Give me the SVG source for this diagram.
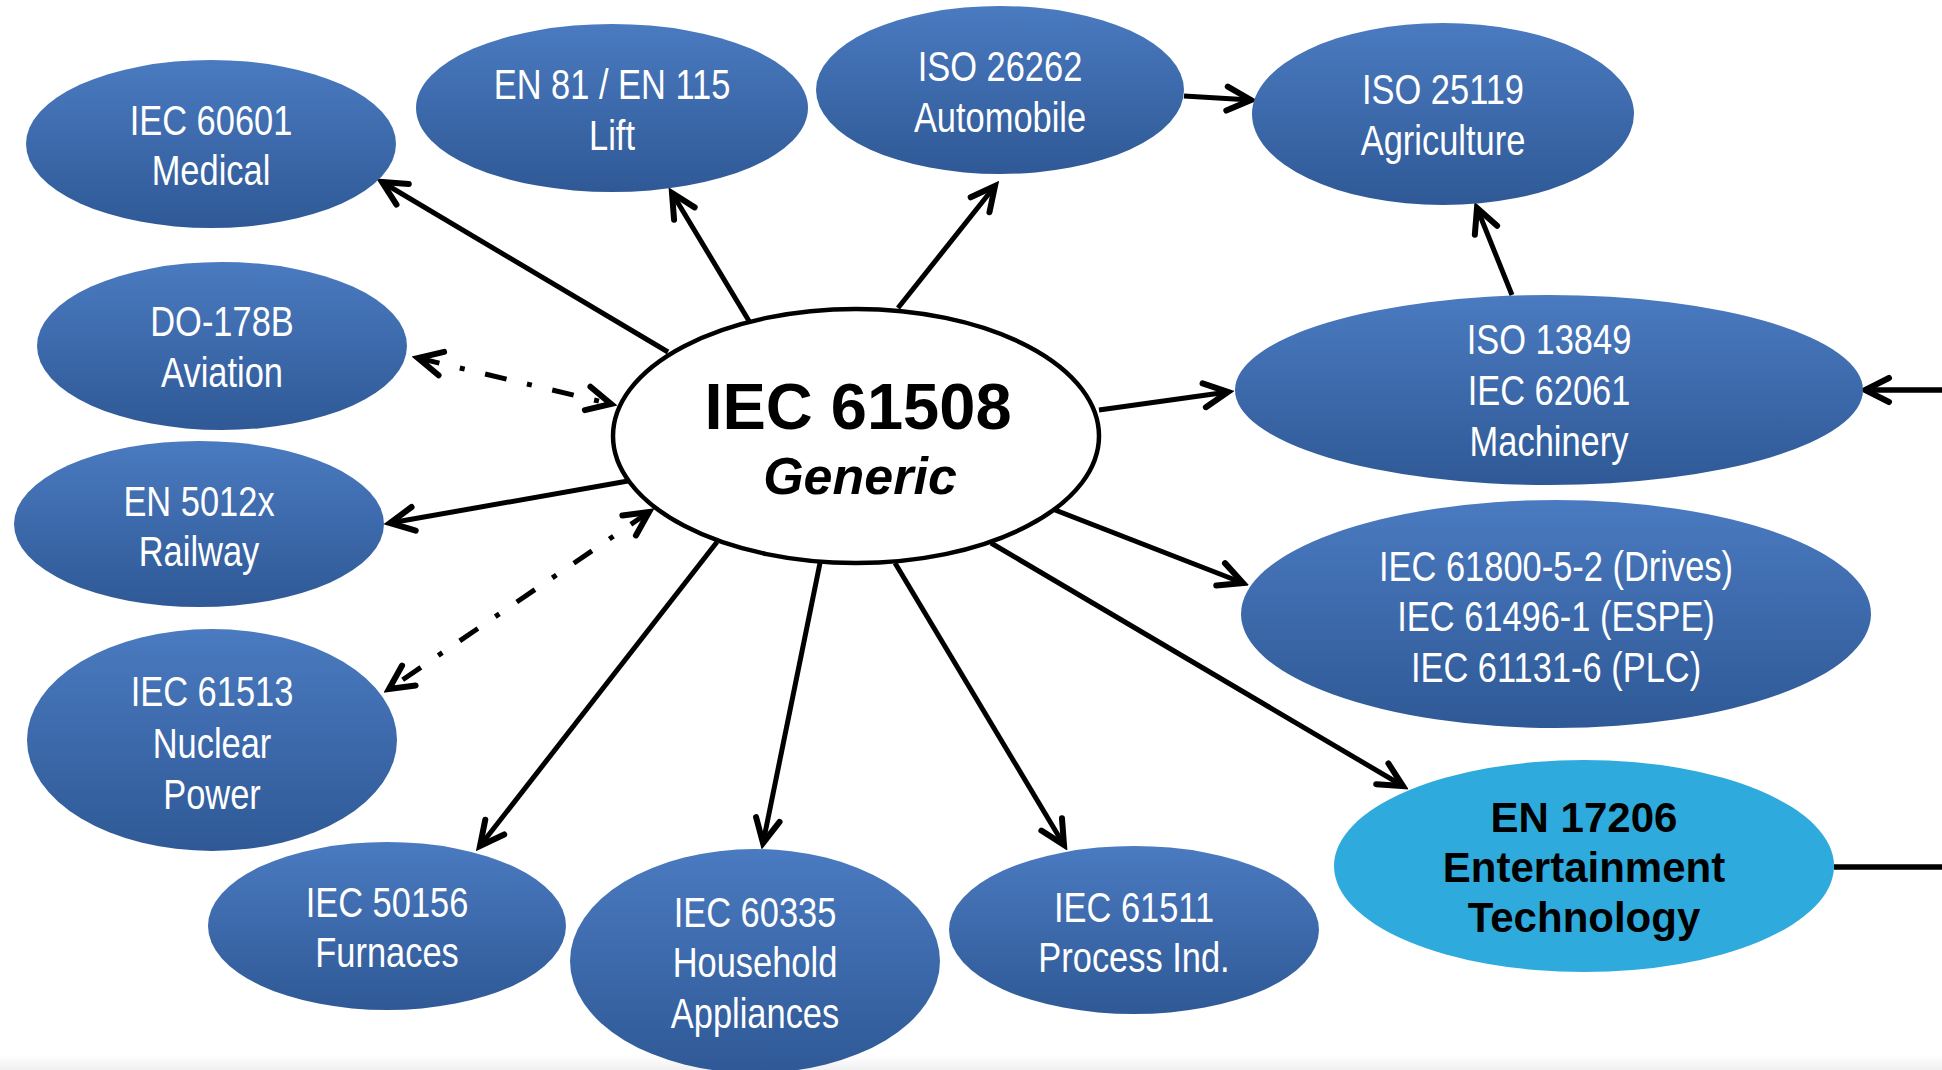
<svg xmlns="http://www.w3.org/2000/svg" width="1942" height="1070" viewBox="0 0 1942 1070">
  <defs>
    <linearGradient id="blueFill" x1="0" y1="0" x2="0" y2="1">
      <stop offset="0" stop-color="#4A7AC0"/>
      <stop offset="1" stop-color="#2F5996"/>
    </linearGradient>
    <linearGradient id="floorFade" x1="0" y1="0" x2="0" y2="1">
      <stop offset="0" stop-color="#FFFFFF"/>
      <stop offset="1" stop-color="#F0F0F0"/>
    </linearGradient>
    <marker id="arrow" markerUnits="userSpaceOnUse" viewBox="-32 -18 38 36" refX="0" refY="0" markerWidth="38" markerHeight="36" orient="auto-start-reverse">
      <path d="M-24,-12 L0,0 L-24,12" fill="none" stroke="#000" stroke-width="6" stroke-linecap="round" stroke-linejoin="miter"/>
    </marker>
    <style>
      .std { fill: url(#blueFill); }
      .hl { fill: #2EABDC; }
      /* condensed white labels: regular sans squeezed horizontally */
      .lbl { font-family: "Liberation Sans", Arial, sans-serif; font-size: 42px; fill: #FFFFFF; text-anchor: middle; }
      .lblB { font-family: "Liberation Sans", Arial, sans-serif; font-weight: bold; font-size: 42px; fill: #000; text-anchor: middle; }
      .hub { fill: #FFFFFF; stroke: #000; stroke-width: 4.5; }
      .hubT { font-family: "Liberation Sans", Arial, sans-serif; font-weight: bold; fill: #000; text-anchor: middle; }
      .link { stroke: #000; stroke-width: 5; fill: none; }
      .arr { marker-end: url(#arrow); }
      .dd { stroke-dasharray: 22 21 5 21; marker-start: url(#arrow); marker-end: url(#arrow); }
    </style>
  </defs>

  <rect x="0" y="0" width="1942" height="1070" fill="#FFFFFF"/>
  <rect x="0" y="1055" width="1942" height="15" fill="url(#floorFade)"/>

  <!-- connectors -->
  <g id="connectors">
    <line class="link arr" x1="668" y1="352" x2="382" y2="182"/>
    <line class="link arr" x1="749" y1="321" x2="672" y2="193"/>
    <line class="link arr" x1="898" y1="308" x2="995" y2="186"/>
    <line class="link arr" x1="1184" y1="96" x2="1251" y2="100"/>
    <line class="link arr" x1="1512" y1="295" x2="1477" y2="208"/>
    <line class="link arr" x1="1942" y1="390" x2="1865" y2="390" style="stroke-width:5.5"/>
    <line class="link arr" x1="1099" y1="410" x2="1228" y2="392"/>
    <line class="link dd" x1="418" y1="358" x2="611" y2="404"/>
    <line class="link arr" x1="628" y1="481" x2="390" y2="523"/>
    <line class="link dd" x1="649" y1="512" x2="389" y2="689"/>
    <line class="link arr" x1="717" y1="542" x2="480" y2="846"/>
    <line class="link arr" x1="820" y1="563" x2="763" y2="843"/>
    <line class="link arr" x1="895" y1="563" x2="1064" y2="845"/>
    <line class="link arr" x1="1055" y1="510" x2="1243" y2="583"/>
    <line class="link arr" x1="991" y1="543" x2="1403" y2="786"/>
    <line class="link" x1="1834" y1="867" x2="1942" y2="867" style="stroke-width:5.5"/>
  </g>

  <!-- central standard -->
  <g id="iec61508">
    <ellipse class="hub" cx="856" cy="436" rx="243" ry="127"/>
    <text class="hubT" x="858" y="429" font-size="65">IEC 61508</text>
    <text class="hubT" x="860" y="494" font-size="52" font-style="italic">Generic</text>
  </g>

  <g id="iec60601">
    <ellipse class="std" cx="211" cy="144" rx="185" ry="84"/>
    <text class="lbl" transform="translate(211,135) scale(0.82,1)">IEC 60601</text>
    <text class="lbl" transform="translate(211,185) scale(0.82,1)">Medical</text>
  </g>

  <g id="en81">
    <ellipse class="std" cx="612" cy="108" rx="196" ry="84"/>
    <text class="lbl" transform="translate(612,99) scale(0.82,1)">EN 81 / EN 115</text>
    <text class="lbl" transform="translate(612,150) scale(0.82,1)">Lift</text>
  </g>

  <g id="iso26262">
    <ellipse class="std" cx="1000" cy="90" rx="184" ry="84"/>
    <text class="lbl" transform="translate(1000,81) scale(0.82,1)">ISO 26262</text>
    <text class="lbl" transform="translate(1000,132) scale(0.82,1)">Automobile</text>
  </g>

  <g id="iso25119">
    <ellipse class="std" cx="1443" cy="114" rx="191" ry="91"/>
    <text class="lbl" transform="translate(1443,104) scale(0.82,1)">ISO 25119</text>
    <text class="lbl" transform="translate(1443,155) scale(0.82,1)">Agriculture</text>
  </g>

  <g id="do178b">
    <ellipse class="std" cx="222" cy="346" rx="185" ry="84"/>
    <text class="lbl" transform="translate(222,336) scale(0.82,1)">DO-178B</text>
    <text class="lbl" transform="translate(222,387) scale(0.82,1)">Aviation</text>
  </g>

  <g id="iso13849">
    <ellipse class="std" cx="1549" cy="390" rx="314" ry="95"/>
    <text class="lbl" transform="translate(1549,354) scale(0.82,1)">ISO 13849</text>
    <text class="lbl" transform="translate(1549,405) scale(0.82,1)">IEC 62061</text>
    <text class="lbl" transform="translate(1549,456) scale(0.82,1)">Machinery</text>
  </g>

  <g id="en5012x">
    <ellipse class="std" cx="199" cy="524" rx="185" ry="83"/>
    <text class="lbl" transform="translate(199,516) scale(0.82,1)">EN 5012x</text>
    <text class="lbl" transform="translate(199,566) scale(0.82,1)">Railway</text>
  </g>

  <g id="iec61513">
    <ellipse class="std" cx="212" cy="740" rx="185" ry="111"/>
    <text class="lbl" transform="translate(212,706) scale(0.82,1)">IEC 61513</text>
    <text class="lbl" transform="translate(212,758) scale(0.82,1)">Nuclear</text>
    <text class="lbl" transform="translate(212,809) scale(0.82,1)">Power</text>
  </g>

  <g id="iec50156">
    <ellipse class="std" cx="387" cy="926" rx="179" ry="84"/>
    <text class="lbl" transform="translate(387,917) scale(0.82,1)">IEC 50156</text>
    <text class="lbl" transform="translate(387,967) scale(0.82,1)">Furnaces</text>
  </g>

  <g id="iec60335">
    <ellipse class="std" cx="755" cy="961" rx="185" ry="112"/>
    <text class="lbl" transform="translate(755,927) scale(0.82,1)">IEC 60335</text>
    <text class="lbl" transform="translate(755,977) scale(0.82,1)">Household</text>
    <text class="lbl" transform="translate(755,1028) scale(0.82,1)">Appliances</text>
  </g>

  <g id="iec61511">
    <ellipse class="std" cx="1134" cy="930" rx="185" ry="84"/>
    <text class="lbl" transform="translate(1134,922) scale(0.82,1)">IEC 61511</text>
    <text class="lbl" transform="translate(1134,972) scale(0.82,1)">Process Ind.</text>
  </g>

  <g id="iec61800">
    <ellipse class="std" cx="1556" cy="614" rx="315" ry="114"/>
    <text class="lbl" transform="translate(1556,581) scale(0.82,1)">IEC 61800-5-2 (Drives)</text>
    <text class="lbl" transform="translate(1556,631) scale(0.82,1)">IEC 61496-1 (ESPE)</text>
    <text class="lbl" transform="translate(1556,682) scale(0.82,1)">IEC 61131-6 (PLC)</text>
  </g>

  <g id="en17206">
    <ellipse class="hl" cx="1584" cy="866" rx="250" ry="106"/>
    <text class="lblB" x="1584" y="832">EN 17206</text>
    <text class="lblB" x="1584" y="882">Entertainment</text>
    <text class="lblB" x="1584" y="932">Technology</text>
  </g>
</svg>
